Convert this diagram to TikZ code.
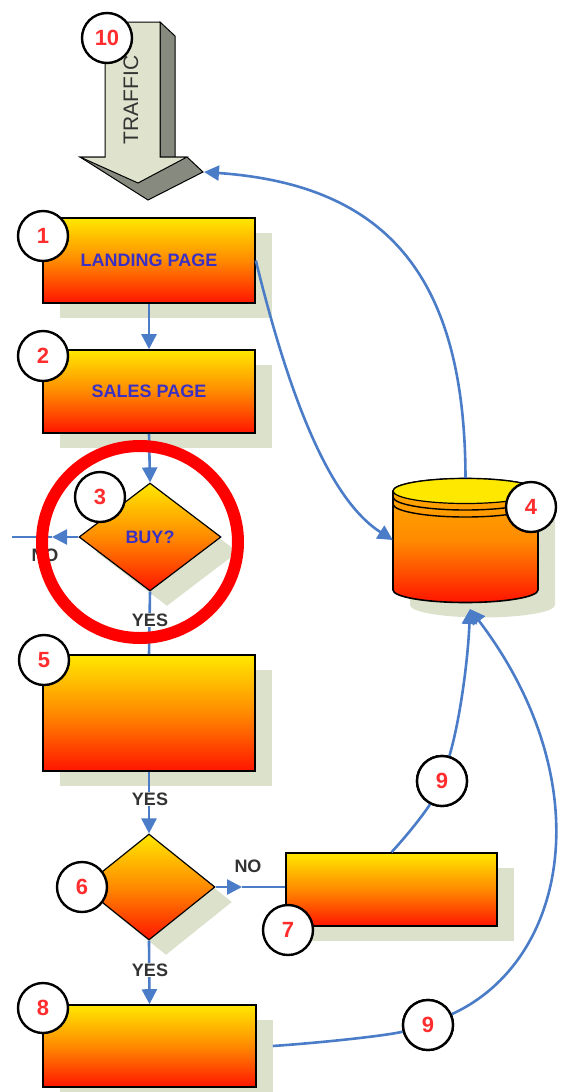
\documentclass[tikz,border=0pt]{standalone}
\usepackage{fontspec}
\setmainfont{Liberation Sans}
\usetikzlibrary{shapes.geometric,arrows.meta,shadows}
\definecolor{shad}{HTML}{DCE1CC}
\definecolor{flowblue}{HTML}{4A7CC8}
\definecolor{numred}{HTML}{FF2D2D}
\definecolor{lblgrey}{HTML}{333333}
\definecolor{boxtxt}{HTML}{3B30C4}
\definecolor{gy}{HTML}{FFE800}
\definecolor{go}{HTML}{FF8A00}
\definecolor{gr}{HTML}{FF1500}
\definecolor{arrlight}{HTML}{DFE3CD}
\definecolor{arrdark}{HTML}{878B7F}
\begin{document}
\begin{tikzpicture}[x=1pt,y=-1pt,
  sdw/.style={drop shadow={shadow xshift=17pt,shadow yshift=-15pt,fill=shad,opacity=1}},
  pagebox/.style={rectangle,draw=black,line width=1.6pt,top color=gy,bottom color=gr,middle color=go,
    inner sep=0pt,minimum width=212pt,text=boxtxt,font=\bfseries\fontsize{18}{18}\selectfont,sdw},
  decision/.style={diamond,draw=black,line width=1.2pt,top color=gy,bottom color=gr,middle color=go,
    inner sep=0pt,text=boxtxt,font=\bfseries\fontsize{18}{18}\selectfont,sdw},
  numc/.style={circle,draw=black,line width=2.4pt,fill=white,minimum size=50pt,inner sep=0pt,
    text=numred,font=\bfseries\fontsize{22}{22}\selectfont},
  conn/.style={draw=flowblue,line width=2.6pt},
  tipped/.style={-{Triangle[length=15pt,width=15pt]}},
  lbl/.style={fill=white,inner sep=1pt,text=lblgrey,font=\bfseries\fontsize{18}{18}\selectfont}]
\useasboundingbox (0,0) rectangle (565,1092);

% ---- database cylinder (4)
\fill[shad] (410,506) -- (410,605) arc[start angle=180,end angle=0,x radius=72.5,y radius=12.5] -- (555,506) -- cycle;
\path[draw=black,line width=1.6pt,top color=gy!40!go,bottom color=gr,middle color=go]
  (393,491) -- (393,590) arc[start angle=180,end angle=0,x radius=72.5,y radius=12.5]
  -- (538,491) arc[start angle=0,end angle=-180,x radius=72.5,y radius=12.5] -- cycle;
\draw[line width=1.2pt,fill=gy] (465.5,491) ellipse[x radius=72.5,y radius=12.5];
\draw[line width=1.4pt] (393,497) arc[start angle=180,end angle=0,x radius=72.5,y radius=13];
\draw[line width=1.4pt] (393,504) arc[start angle=180,end angle=0,x radius=72.5,y radius=13];
\node[minimum width=145pt,minimum height=124pt,inner sep=0pt] (db) at (465.5,540) {};

% ---- traffic arrow (10)
\filldraw[fill=arrdark,draw=black,line width=1pt] (160,22) -- (175,36) -- (175,162) -- (160,157) -- cycle;
\filldraw[fill=arrdark,draw=black,line width=1pt] (80,157) -- (148,200) -- (203,172) -- (187,157) -- cycle;
\filldraw[fill=arrlight,draw=black,line width=1pt] (105,22) -- (160,22) -- (160,157) -- (187,157) -- (138,183) -- (80,157) -- (105,157) -- cycle;
\node[rotate=90,text=lblgrey,font=\fontsize{21}{21}\selectfont] (traffic) at (131,100) {TRAFFIC};
\coordinate (trafR) at (204,172);

% ---- boxes and decisions
\node[pagebox,minimum height=85pt] (b1) at (149,260.5) {LANDING PAGE};
\node[pagebox,minimum height=83pt] (b2) at (149,391.5) {SALES PAGE};
\node[decision,minimum width=142pt,minimum height=108pt] (d3) at (150,537) {BUY?};
\node[pagebox,minimum height=116pt] (b5) at (149,713) {};
\node[decision,minimum width=132pt,minimum height=106pt] (d6) at (149,887) {};
\node[pagebox,minimum width=211pt,minimum height=73pt] (b7) at (391.5,889.5) {};
\node[pagebox,minimum width=213pt,minimum height=82pt] (b8) at (149.5,1046) {};

% ---- connectors
\coordinate (noend) at (12,537);
\coordinate (noarr) at (52,537);
\coordinate (dbin) at (470,609);
\coordinate (yesarr) at (242,887);

\draw[conn,tipped] (b1.south) -- (b2.north);
\draw[conn,tipped] (b2.south) -- (d3.north);
\draw[conn,tipped] (d3.west) -- (noarr);
\draw[conn] (noarr) -- (noend);
\draw[conn] (d3.south) -- (b5.north);
\draw[conn,tipped] (b5.south) -- (d6.north);
\draw[conn,tipped] (d6.east) -- (d6.east -| yesarr);
\draw[conn] (d6.east -| yesarr) -- (d6.east -| b7.west);
\draw[conn,tipped] (d6.south) -- (b8.north);
\draw[conn,tipped] (b1.east) .. controls (290,400) and (330,500) .. (db.west);
\draw[conn,tipped] (db.north) .. controls (465,280) and (390,185) .. (trafR);

\node[numc] (n9a) at (442,781) {9};
\node[numc] (n9b) at (428,1025) {9};
\draw[conn] (b7.north) .. controls (412,830) and (428,808) .. (n9a);
\draw[conn,tipped] (n9a) .. controls (460,720) and (468,660) .. (dbin);
\draw[conn] ([xshift=16pt]b8.east) .. controls (330,1042) and (390,1035) .. (n9b);
\draw[conn,tipped] (n9b) .. controls (570,960) and (600,780) .. (dbin);
\node[numc] at (n9a) {9};
\node[numc] at (n9b) {9};

% ---- labels
\node[lbl] (no3) at (45,555) {NO};
\node[lbl] (yes3) at (150,620) {YES};
\node[lbl] (yes5) at (150,799) {YES};
\node[lbl,fill=none] (no6) at (248,866) {NO};
\node[lbl] (yes6) at (150,970) {YES};

% ---- number circles
\node[numc] (n10) at (107,38) {10};
\node[numc] (n1) at (43,236) {1};
\node[numc] (n2) at (43,356) {2};
\node[numc] (n3) at (100,497) {3};
\node[numc] (n4) at (531,507) {4};
\node[numc] (n5) at (44,660) {5};
\node[numc] (n6) at (82,887) {6};
\node[numc] (n7) at (288,930) {7};
\node[numc] (n8) at (43,1008) {8};

% ---- red highlight ring
\draw[red,line width=12pt] (140,542) ellipse[x radius=98,y radius=96];
\end{tikzpicture}
\end{document}
